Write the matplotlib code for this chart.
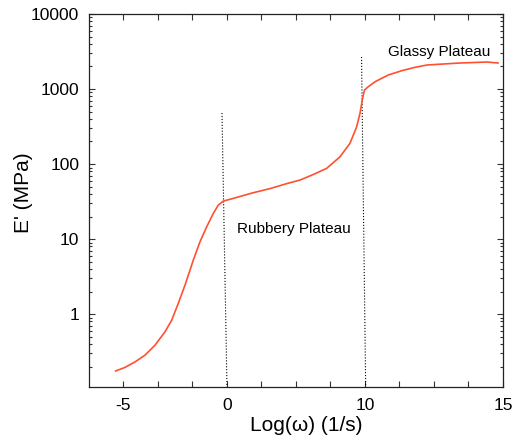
import numpy as np
import matplotlib.pyplot as plt
from matplotlib.ticker import LogLocator, FixedLocator, FixedFormatter, NullFormatter

plt.rcParams['font.family'] = ['Liberation Sans', 'DejaVu Sans']

# x axis is in tick-slot units: the printed Log(w) labels are not evenly spaced
x_ticks = [1, 2, 3, 4, 5, 6, 7, 8, 9, 10, 11, 12]
x_labels = ['-5', '', '', '0', '', '', '', '10', '', '', '', '15']
y_ticks = [1, 10, 100, 1000, 10000]
y_labels = ['1', '10', '100', '1000', '10000']

# storage modulus curve
pos = [0.774, 1.043, 1.333, 1.623, 1.913, 2.203, 2.397, 2.588, 2.783, 2.928,
       3.023, 3.217, 3.412, 3.603, 3.748, 3.893, 4.183, 4.725, 5.246, 5.739,
       6.116, 6.493, 6.890, 7.275, 7.565, 7.759, 7.855, 7.922, 7.951, 7.986,
       8.096, 8.290, 8.675, 9.064, 9.449, 9.797, 10.26, 10.754, 11.536, 11.855]
E = [0.175, 0.195, 0.231, 0.284, 0.386, 0.581, 0.832, 1.39, 2.44, 3.86,
     5.25, 9.20, 14.6, 22.0, 28.4, 32.1, 34.9, 41.1, 47.1, 55.0,
     61.2, 72.4, 87.7, 125, 189, 314, 474, 713, 832, 970,
     1074, 1250, 1538, 1754, 1946, 2089, 2154, 2222, 2291, 2222]

# dotted region boundaries (top x, bottom x, top E)
bound_x = [[3.855, 4.0], [7.90, 8.02]]
bound_top = [479, 2670]
y_min, y_max = 0.107, 10000

fig = plt.figure(figsize=(5.12, 4.44), dpi=100)
ax = fig.add_axes([0.1738, 0.1284, 0.8086, 0.8401])

for bx, top in zip(bound_x, bound_top):
    ax.plot(bx, [top, y_min], color='k', linestyle=':', linewidth=0.8)

ax.plot(pos, E, color='#ff5030', linewidth=1.2)

ax.set_yscale('log')
ax.set_xlim(0, 12)
ax.set_ylim(y_min, y_max)

ax.xaxis.set_major_locator(FixedLocator(x_ticks))
ax.xaxis.set_major_formatter(FixedFormatter(x_labels))
ax.yaxis.set_major_locator(FixedLocator(y_ticks))
ax.yaxis.set_major_formatter(FixedFormatter(y_labels))
ax.yaxis.set_minor_locator(LogLocator(base=10, subs=np.arange(2, 10)))
ax.yaxis.set_minor_formatter(NullFormatter())

ax.tick_params(which='both', direction='in', top=True, right=True,
               color='#333333', width=0.8)
ax.tick_params(which='major', length=4.5, labelsize=12.5, pad=7)
ax.tick_params(which='minor', length=2)
ax.tick_params(axis='x', which='major', pad=8)
for s in ax.spines.values():
    s.set_color('#222222')
    s.set_linewidth(0.9)

ax.text(5.94, 13.6, 'Rubbery Plateau', fontsize=11, ha='center', va='center')
ax.text(10.16, 3100, 'Glassy Plateau', fontsize=11, ha='center', va='center')

ax.set_xlabel('Log(\u03c9) (1/s)', fontsize=15)
ax.set_ylabel("E' (MPa)", fontsize=15)
ax.xaxis.set_label_coords(0.524, -0.078)
ax.yaxis.set_label_coords(-0.135, 0.52)

fig.savefig('out.png', dpi=100)
